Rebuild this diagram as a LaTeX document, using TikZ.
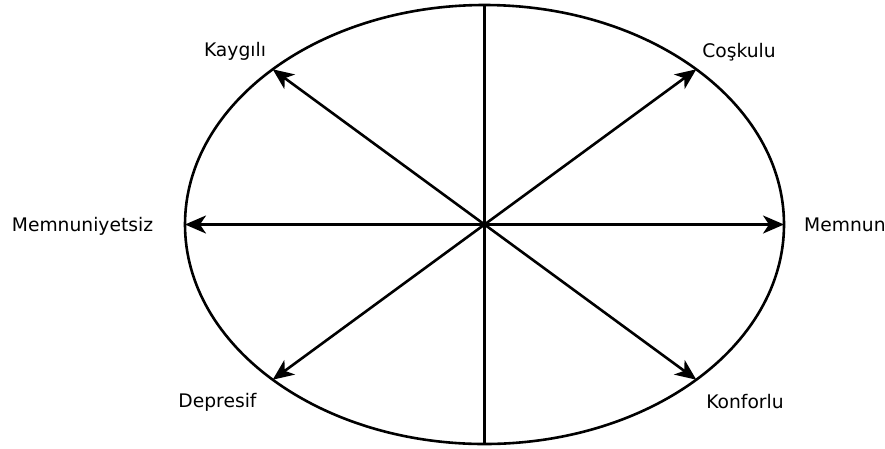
\documentclass[tikz,border=0pt]{standalone}
\usepackage{fontspec}
\setmainfont{DejaVu Sans}
\usetikzlibrary{arrows.meta}

\begin{document}
\begin{tikzpicture}[x=1pt,y=-1pt,font=\fontsize{18.7}{22}\selectfont,
      >={Stealth[length=21pt,width=18pt,inset=6pt]},
      ln/.style={line width=2.6pt},
      lbl/.style={inner sep=0pt,anchor=base}]
    \useasboundingbox (0,0) rectangle (885,448);
    % circumplex
    \draw[ln] (484.5,224.5) ellipse [x radius=299.5,y radius=219.5];
    \coordinate (c) at (484.5,224.5);
    \coordinate (top) at (484.5,5);
    \coordinate (bot) at (484.5,444);
    \coordinate (w) at (185,224.5);
    \coordinate (e) at (784,224.5);
    \coordinate (nw) at (272.7,69.3);
    \coordinate (ne) at (696.3,69.3);
    \coordinate (sw) at (272.7,379.7);
    \coordinate (se) at (696.3,379.7);
    \draw[ln] (top) -- (bot);
    \foreach \p in {w,e,nw,ne,sw,se}
      \draw[ln,->] (c) -- (\p);
    % labels
    \node[lbl] (kay) at (235,56.7) {Kaygılı};
    \node[lbl] (cos) at (739,57.5) {Coşkulu};
    \node[lbl] (mns) at (82.5,231) {Memnuniyetsiz};
    \node[lbl,anchor=base west] (mem) at (804,231) {Memnun};
    \node[lbl] (dep) at (217.5,407) {Depresif};
    \node[lbl] (kon) at (745,408) {Konforlu};
  \end{tikzpicture}
\end{document}
